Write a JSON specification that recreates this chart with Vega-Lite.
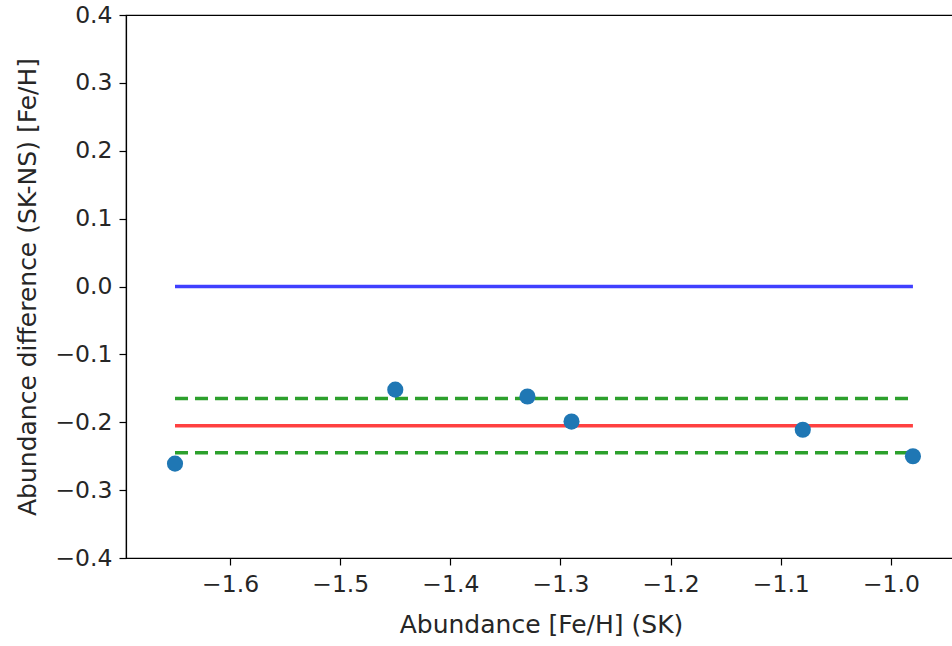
{
  "$schema": "https://vega.github.io/schema/vega-lite/v6.json",
  "autosize": "none",
  "width": 830,
  "height": 543,
  "padding": {"left": 126, "top": 15, "right": 0, "bottom": 88},
  "background": "white",
  "config": {
    "view": {"stroke": "black", "strokeWidth": 1.2},
    "font": "DejaVu Sans",
    "axis": {
      "grid": false,
      "domainColor": "black",
      "domainWidth": 1.2,
      "tickColor": "black",
      "tickSize": 7,
      "tickWidth": 1.2,
      "labelFont": "DejaVu Sans",
      "labelFontSize": 23.5,
      "labelColor": "#262626",
      "titleFont": "DejaVu Sans",
      "titleFontSize": 25,
      "titleFontWeight": "normal",
      "titleColor": "#262626",
      "labelPadding": 7
    }
  },
  "datasets": {
    "points": [
      {"sk": -1.65, "diff": -0.261},
      {"sk": -1.45, "diff": -0.152},
      {"sk": -1.33, "diff": -0.162},
      {"sk": -1.29, "diff": -0.199},
      {"sk": -1.08, "diff": -0.211},
      {"sk": -0.98, "diff": -0.250}
    ],
    "lines": [
      {"x1": -1.65, "x2": -0.98, "y": 0.0, "kind": "zero"},
      {"x1": -1.65, "x2": -0.98, "y": -0.205, "kind": "mean"},
      {"x1": -1.65, "x2": -0.98, "y": -0.165, "kind": "upper"},
      {"x1": -1.65, "x2": -0.98, "y": -0.245, "kind": "lower"}
    ]
  },
  "layer": [
    {
      "data": {"name": "lines"},
      "mark": {"type": "rule", "strokeWidth": 3.5},
      "encoding": {
        "x": {
          "field": "x1", "type": "quantitative",
          "scale": {"domain": [-1.6945, -0.9409], "nice": false, "zero": false},
          "axis": {
            "title": "Abundance [Fe/H] (SK)",
            "values": [-1.6, -1.5, -1.4, -1.3, -1.2, -1.1, -1.0],
            "labelExpr": "replace(format(datum.value, '.1f'), '-', '\u2212')",
            "titlePadding": 17
          }
        },
        "x2": {"field": "x2"},
        "y": {
          "field": "y", "type": "quantitative",
          "scale": {"domain": [-0.4, 0.4], "nice": false, "zero": false},
          "axis": {
            "title": "Abundance difference (SK-NS) [Fe/H]",
            "values": [-0.4, -0.3, -0.2, -0.1, 0.0, 0.1, 0.2, 0.3, 0.4],
            "labelExpr": "replace(format(datum.value, '.1f'), '-', '\u2212')",
            "titlePadding": 14
          }
        },
        "color": {
          "field": "kind", "type": "nominal",
          "scale": {"domain": ["zero", "mean", "upper", "lower"], "range": ["#4040ff", "#ff4040", "#2ca02c", "#2ca02c"]},
          "legend": null
        },
        "strokeDash": {
          "field": "kind", "type": "nominal",
          "scale": {"domain": ["zero", "mean", "upper", "lower"], "range": [[1, 0], [1, 0], [13, 7], [13, 7]]},
          "legend": null
        }
      }
    },
    {
      "data": {"name": "points"},
      "mark": {"type": "point", "filled": true, "opacity": 1, "size": 260, "color": "#1f77b4"},
      "encoding": {
        "x": {"field": "sk", "type": "quantitative"},
        "y": {"field": "diff", "type": "quantitative"}
      }
    }
  ]
}
